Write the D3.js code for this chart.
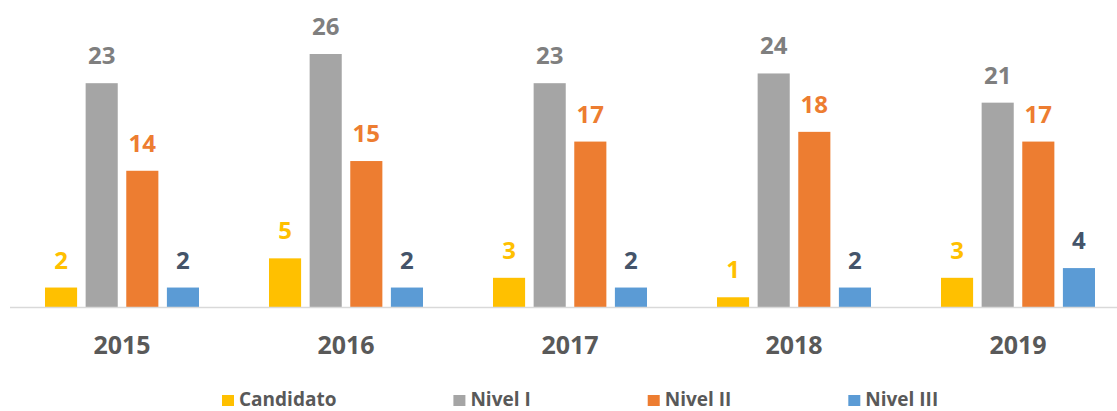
<!DOCTYPE html>
<html>
<head>
<meta charset="utf-8">
<script src="https://cdn.jsdelivr.net/npm/d3@7"></script>
<style>
  html, body { margin: 0; padding: 0; background: #fff; overflow: hidden; }
  svg { display: block; font-family: "Open Sans", "DejaVu Sans", sans-serif; }
</style>
</head>
<body>
<div id="chart"></div>
<script>
const years = ["2015", "2016", "2017", "2018", "2019"];
const seriesNames = ["Candidato", "Nivel I", "Nivel II", "Nivel III"];
const candidato = [2, 5, 3, 1, 3];
const nivelI = [23, 26, 23, 24, 21];
const nivelII = [14, 15, 17, 18, 17];
const nivelIII = [2, 2, 2, 2, 4];

const barColors = ["#FFC000", "#A5A5A5", "#ED7D31", "#5B9BD5"];
const labelColors = ["#FFC000", "#7F7F7F", "#ED7D31", "#44546A"];

const W = 1117, H = 411;
const baseY = 307;

const rows = years.map((yr, i) => ({
  year: yr,
  values: [candidato[i], nivelI[i], nivelII[i], nivelIII[i]]
}));

const svg = d3.select("#chart").append("svg")
  .attr("width", W)
  .attr("height", H);

const x0 = d3.scaleBand().domain(years).range([10, 1130]);
const x1 = d3.scaleBand().domain(seriesNames).range([35, 189]).paddingInner(0.21);
const y = d3.scaleLinear().domain([0, 26]).range([baseY, 54]);

const groups = svg.append("g")
  .selectAll("g")
  .data(rows)
  .join("g")
  .attr("transform", d => `translate(${x0(d.year)},0)`);

groups.selectAll("rect")
  .data(d => d.values.map((v, k) => ({name: seriesNames[k], v, k})))
  .join("rect")
  .attr("x", d => x1(d.name))
  .attr("width", x1.bandwidth())
  .attr("y", d => y(d.v))
  .attr("height", d => y(0) - y(d.v))
  .attr("fill", d => barColors[d.k]);

groups.selectAll("text.val")
  .data(d => d.values.map((v, k) => ({name: seriesNames[k], v, k})))
  .join("text")
  .attr("class", "val")
  .attr("x", d => x1(d.name) + x1.bandwidth() / 2)
  .attr("y", d => y(d.v) - 19)
  .attr("text-anchor", "middle")
  .attr("font-size", 24)
  .attr("font-weight", 700)
  .attr("fill", d => labelColors[d.k])
  .text(d => d.v);

// axis line
svg.append("line")
  .attr("x1", 10).attr("x2", W)
  .attr("y1", baseY + 0.5).attr("y2", baseY + 0.5)
  .attr("stroke", "#D9D9D9")
  .attr("stroke-width", 1.5);

svg.append("g")
  .selectAll("text")
  .data(years)
  .join("text")
  .attr("x", d => x0(d) + x0.bandwidth() / 2)
  .attr("y", 354)
  .attr("text-anchor", "middle")
  .attr("font-size", 25)
  .attr("font-weight", 700)
  .attr("fill", "#595959")
  .text(d => d);

// legend (kept just inside the bottom edge)
const legend = svg.append("g");
let lx = 222;
seriesNames.forEach((name, k) => {
  legend.append("rect")
    .attr("x", lx).attr("y", 395)
    .attr("width", 12).attr("height", 11)
    .attr("fill", barColors[k]);
  const t = legend.append("text")
    .attr("x", lx + 17)
    .attr("y", 406)
    .attr("font-size", 19)
    .attr("font-weight", 700)
    .attr("fill", "#595959")
    .text(name);
  const w = t.node().getComputedTextLength();
  lx = lx + 17 + w + 117;
});
</script>
</body>
</html>
